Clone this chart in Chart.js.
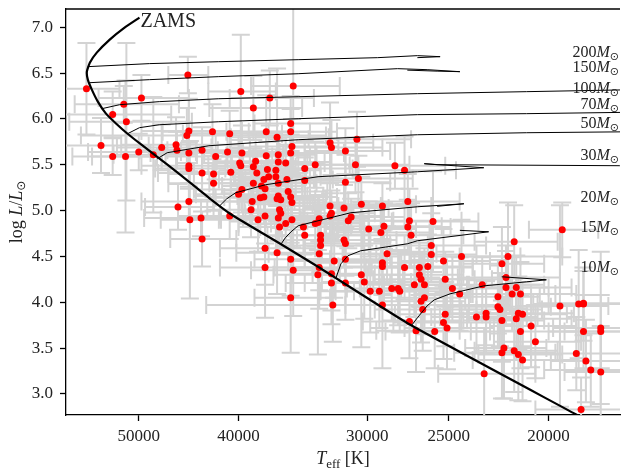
<!DOCTYPE html>
<html lang="en">
<head>
<meta charset="UTF-8">
<title>HRD</title>
<style>
  html, body { margin: 0; padding: 0; background: #fff; overflow: hidden; }
  #hrd { display: block; }
</style>
</head>
<body>
<canvas id="hrd" width="624" height="471"></canvas>
<script src="https://cdn.jsdelivr.net/npm/chart.js"></script>
<script>
// observed stars: Teff [K] and log L/Lsun with their errors
const starTeff = [
  56200, 44800, 49700, 51700, 53000, 51400, 54400, 53000, 51500, 50000,
  48400, 47500, 46000, 45900, 44700, 44900, 44700, 43400, 44700, 44700,
  43400, 44700, 45800, 44600, 43500, 43400, 39800, 35400, 37300, 38700,
  42400, 40800, 37600, 35600, 35600, 36700, 35500, 42100, 41000, 39700,
  37600, 36600, 35600, 42300, 40700, 42300, 39900, 39800, 38500, 36600,
  36000, 34500, 33700, 38700, 38400, 37500, 36800, 37400, 37800, 36800,
  36600, 35900, 34500, 38700, 38000, 37700, 37800, 38100, 39700, 40000,
  36600, 36700, 36400, 35800, 35600, 35500, 38800, 38900, 36500, 36400,
  37700, 38300, 40800, 35500, 36600, 36500, 36000, 34600, 34500, 33700,
  37700, 36700, 35600, 35400, 37700, 35600, 33500, 33400, 33500, 32600,
  31300, 31100, 29900, 28900, 29100, 27300, 27400, 27200, 33300, 33300,
  33300, 33400, 31600, 31500, 32300, 31500, 28700, 29000, 29000, 27600,
  26700, 26700, 26600, 26400, 27000, 26400, 26500, 33400, 32500, 32500,
  31500, 30400, 30200, 29800, 29200, 28400, 28000, 27900, 29000, 32400,
  30700, 32600, 32500, 31500, 30800, 28200, 27600, 31500, 30600, 32600,
  31600, 30400, 29000, 27400, 32500, 25900, 26000, 26000, 25300, 24300,
  26200, 25200, 24800, 24400, 23200, 26600, 21600, 21900, 22200, 22000,
  22000, 21500, 21700, 21300, 22400, 22400, 22300, 25200, 23500, 23000,
  23000, 22200, 21400, 21200, 21500, 25300, 25100, 19400, 19500, 18700,
  18500, 18500, 18500, 17800, 17800, 21300, 20800, 20600, 22100, 22200,
  21600, 21400, 21200, 18800, 18400, 18200, 17800, 18600, 23100, 25800,
  26900, 27300
];
const starTeffErr = [
  4000, 2000, 5000, 6000, 6500, 7000, 5500, 5000, 4000, 6000,
  4500, 5000, 6000, 4000, 5000, 12000, 4000, 3500, 5000, 3500,
  4500, 5000, 3500, 3000, 5900, 3200, 3000, 3500, 3500, 4000,
  5000, 4500, 3500, 3000, 3500, 4000, 3500, 5000, 4500, 3500,
  3500, 3000, 4000, 4500, 3500, 4500, 3500, 3000, 3500, 4000,
  3000, 3500, 3000, 3500, 4000, 3000, 3500, 3000, 4000, 3500,
  3000, 3500, 3000, 4000, 3500, 3000, 3500, 4000, 4500, 4000,
  3500, 3000, 3500, 3000, 3500, 4000, 3500, 4000, 3500, 3000,
  4000, 3500, 5000, 3500, 3000, 3500, 4000, 3500, 3000, 3500,
  4000, 3500, 3000, 3500, 4000, 3000, 3500, 3500, 3000, 3500,
  3000, 3500, 3000, 3500, 3000, 3000, 2500, 3000, 3500, 3000,
  3500, 4000, 3500, 3000, 3500, 3000, 3000, 2500, 3000, 2500,
  3000, 2500, 3000, 2500, 3000, 2500, 3000, 3500, 3000, 3500,
  3000, 3500, 3000, 3500, 3000, 3000, 2500, 3000, 2500, 10600,
  3500, 3000, 3500, 3000, 3500, 3000, 3000, 3000, 3500, 3500,
  3000, 3500, 3000, 3000, 3000, 2500, 3000, 2500, 2500, 3000,
  2500, 2500, 3000, 2500, 3000, 2500, 2000, 2500, 2000, 2500,
  2000, 2500, 2000, 2500, 2000, 2500, 2000, 3000, 2500, 2000,
  2500, 2000, 2500, 2000, 2500, 3000, 2500, 1500, 2000, 2000,
  1500, 2000, 1500, 2000, 1500, 2500, 2000, 2000, 2000, 2500,
  2000, 2000, 2500, 2000, 1500, 2000, 1500, 2000, 2500, 3000,
  2500, 3000
];
const starLum = [
  6.33, 6.48, 6.23, 6.16, 6.05, 5.97, 5.71, 5.59, 5.59, 5.64,
  5.61, 5.69, 5.72, 5.66, 5.87, 5.82, 5.63, 5.66, 5.49, 5.46,
  5.41, 5.10, 5.04, 4.90, 4.92, 4.69, 6.30, 6.36, 6.23, 6.12,
  5.86, 5.84, 5.86, 5.95, 5.86, 5.80, 5.70, 5.59, 5.64, 5.63,
  5.60, 5.61, 5.63, 5.40, 5.42, 5.30, 5.52, 5.49, 5.54, 5.53,
  5.52, 5.46, 5.50, 5.48, 5.41, 5.45, 5.44, 5.37, 5.34, 5.37,
  5.30, 5.34, 5.33, 5.30, 5.27, 5.24, 5.15, 5.14, 5.23, 5.18,
  5.16, 5.13, 5.12, 5.21, 5.15, 5.09, 5.10, 5.01, 5.01, 4.97,
  4.94, 4.90, 4.94, 4.90, 4.92, 4.82, 4.86, 4.82, 4.73, 4.86,
  4.59, 4.54, 4.47, 4.35, 4.38, 4.05, 4.30, 4.91, 4.87, 4.94,
  4.89, 4.93, 4.80, 4.83, 4.76, 4.89, 4.82, 4.73, 4.73, 4.68,
  4.62, 4.53, 4.68, 4.64, 4.45, 4.47, 4.53, 4.43, 4.39, 4.38,
  4.38, 4.30, 4.25, 4.19, 4.19, 4.05, 3.92, 4.38, 4.31, 4.21,
  4.21, 4.30, 4.22, 4.12, 4.12, 4.15, 4.15, 4.12, 3.97, 3.97,
  5.78, 5.74, 5.69, 5.65, 5.50, 5.49, 5.44, 5.31, 5.35, 5.05,
  5.03, 5.07, 5.05, 5.10, 4.97, 4.88, 4.62, 4.52, 4.45, 4.50,
  4.39, 4.25, 4.15, 4.09, 4.19, 4.01, 4.66, 4.50, 4.42, 4.27,
  4.16, 4.16, 4.09, 4.09, 4.06, 3.95, 3.92, 3.87, 3.84, 3.88,
  3.84, 3.80, 3.88, 3.87, 3.82, 3.78, 3.72, 4.79, 3.96, 3.98,
  3.98, 3.99, 3.68, 3.72, 3.68, 3.68, 3.74, 3.57, 3.50, 3.45,
  3.47, 3.43, 3.37, 3.44, 3.36, 3.26, 3.24, 2.83, 3.22, 3.68,
  3.69, 3.79
];
const starLumErr = [
  0.50, 0.20, 0.25, 0.20, 0.25, 0.86, 0.30, 0.20, 0.83, 0.20,
  0.63, 0.25, 0.30, 0.20, 0.35, 0.30, 0.20, 0.25, 0.25, 0.20,
  0.25, 0.20, 0.25, 0.86, 0.20, 0.30, 0.62, 0.90, 0.30, 0.35,
  0.30, 0.25, 0.40, 0.30, 0.25, 0.75, 0.30, 0.25, 0.20, 0.30,
  0.20, 0.25, 0.20, 0.25, 0.20, 0.30, 0.25, 0.20, 0.30, 0.25,
  0.20, 0.30, 0.25, 0.20, 0.25, 0.30, 0.20, 0.25, 0.20, 0.30,
  0.25, 0.20, 0.25, 0.30, 0.20, 0.25, 0.30, 0.20, 0.25, 0.30,
  0.20, 0.25, 0.30, 0.20, 0.25, 0.30, 0.25, 0.30, 0.20, 0.25,
  0.30, 0.35, 0.25, 0.30, 0.25, 0.30, 0.25, 0.30, 0.35, 0.25,
  0.40, 0.45, 0.40, 0.50, 0.55, 0.60, 0.87, 0.25, 0.30, 0.25,
  0.30, 0.20, 0.30, 0.25, 0.30, 0.35, 0.30, 0.35, 0.30, 0.35,
  0.30, 0.40, 0.30, 0.35, 0.40, 0.35, 0.30, 0.35, 0.30, 0.35,
  0.30, 0.35, 0.30, 0.40, 0.35, 0.40, 0.45, 0.45, 0.40, 0.45,
  0.40, 0.79, 0.40, 0.45, 0.40, 0.35, 0.40, 0.45, 0.69, 0.40,
  0.30, 0.44, 0.30, 0.25, 0.30, 0.25, 0.37, 0.30, 0.25, 0.30,
  0.25, 0.30, 0.25, 0.30, 0.25, 0.55, 0.35, 0.30, 0.35, 0.40,
  0.35, 0.30, 0.35, 0.40, 0.30, 0.45, 0.40, 0.59, 0.40, 0.35,
  0.40, 0.35, 0.40, 0.35, 0.40, 0.45, 0.40, 0.35, 0.40, 0.35,
  0.40, 0.45, 0.40, 0.35, 0.45, 0.40, 0.45, 0.30, 1.10, 0.59,
  0.40, 0.35, 0.40, 0.83, 0.40, 0.40, 0.45, 0.40, 0.55, 0.50,
  0.45, 0.50, 0.45, 0.40, 0.45, 0.40, 0.50, 0.35, 0.50, 0.40,
  0.45, 0.40
];

// zero-age main sequence
const zamsTeff = [49920, 51610, 53350, 54920, 55780, 56150, 56030, 55530, 54790, 53800, 52580,
                  51270, 49700, 48010, 45680, 42740, 40620, 36440, 33490, 27250, 18930, 17990];
const zamsLum = [7.106, 6.997, 6.866, 6.724, 6.614, 6.516, 6.429, 6.320, 6.189, 6.058, 5.948,
                 5.839, 5.719, 5.588, 5.402, 5.140, 4.955, 4.638, 4.387, 3.754, 2.793, 2.661];

// evolutionary tracks
const teff200 = [56030, 48830, 41810, 35010, 29310, 26820, 25490, 26820];
const lum200 = [6.571, 6.604, 6.625, 6.647, 6.669, 6.691, 6.680, 6.669];
const teff150 = [55780, 48830, 41810, 35010, 28040, 26240, 24390, 25660, 27430];
const lum150 = [6.396, 6.429, 6.462, 6.494, 6.549, 6.538, 6.516, 6.522, 6.533];
const teff100 = [54310, 52180, 47760, 41810, 35010, 26820, 21020, 16460];
const lum100 = [6.112, 6.156, 6.189, 6.221, 6.243, 6.276, 6.298, 6.320];
const teff70 = [51270, 49920, 47760, 41810, 35010, 26820, 21020, 16460];
const lum70 = [5.839, 5.905, 5.937, 5.970, 6.003, 6.047, 6.058, 6.074];
const teff50 = [47970, 46920, 42740, 35010, 26820, 21020, 16460];
const lum50 = [5.566, 5.632, 5.708, 5.774, 5.828, 5.850, 5.861];
const teff30 = [41720, 41070, 40260, 37670, 33490, 26820, 23120, 26410, 25660, 17060, 16460];
const lum30 = [5.053, 5.129, 5.195, 5.282, 5.370, 5.424, 5.468, 5.512, 5.501, 5.490, 5.490];
const teff20 = [36360, 36030, 35570, 35010, 33490, 31120, 26820, 24170, 25660];
const lum20 = [4.638, 4.704, 4.769, 4.835, 4.889, 4.977, 5.042, 5.075, 5.047];
const teff15 = [32170, 31820, 31330, 30440, 27430, 26820, 22870, 24390];
const lum15 = [4.267, 4.419, 4.507, 4.562, 4.638, 4.671, 4.769, 4.785];
const teff10 = [27190, 26820, 26240, 25830, 24930, 23120, 21020, 20100, 22210];
const lum10 = [3.743, 3.830, 3.961, 4.026, 4.092, 4.179, 4.223, 4.245, 4.278];

const trackMasses = [200, 150, 100, 70, 50, 30, 20, 15, 10];
const xTicks = [20000, 25000, 30000, 40000, 50000];
const yTicks = [3.0, 3.5, 4.0, 4.5, 5.0, 5.5, 6.0, 6.5, 7.0];

// where the mass labels sit (baseline, in log L)
const labelLum = [6.68, 6.516, 6.287, 6.112, 5.905, 5.555, 5.097, 4.769, 4.332];

const SERIF = '"Liberation Serif", "DejaVu Serif", serif';

const trackData = [
  [teff200, lum200], [teff150, lum150], [teff100, lum100], [teff70, lum70], [teff50, lum50],
  [teff30, lum30], [teff20, lum20], [teff15, lum15], [teff10, lum10]
];
const toPoints = (xs, ys) => xs.map((v, i) => ({ x: v, y: ys[i] }));

const datasets = trackData.map(([t, l]) => ({
  data: toPoints(t, l),
  showLine: true,
  borderColor: '#000',
  borderWidth: 1,
  pointRadius: 0,
  tension: 0,
  order: 0
}));
datasets.push({
  data: toPoints(zamsTeff, zamsLum),
  showLine: true,
  borderColor: '#000',
  borderWidth: 2.2,
  pointRadius: 0,
  tension: 0.15,
  order: 0
});
datasets.push({
  data: toPoints(starTeff, starLum),
  backgroundColor: '#ff0000',
  borderWidth: 0,
  pointRadius: 3.5,
  order: 1
});

const errorBars = {
  id: 'errorBars',
  beforeDatasetsDraw(chart) {
    const { ctx, chartArea: a, scales: { x, y } } = chart;
    const cap = 9;
    ctx.save();
    ctx.beginPath();
    ctx.rect(a.left, a.top, a.right - a.left, a.bottom - a.top);
    ctx.clip();
    ctx.strokeStyle = '#d3d3d3';
    ctx.lineWidth = 2;
    for (let i = 0; i < starTeff.length; i++) {
      const px = x.getPixelForValue(starTeff[i]);
      const py = y.getPixelForValue(starLum[i]);
      const x1 = x.getPixelForValue(Math.max(starTeff[i] - starTeffErr[i], 1000));
      const x2 = x.getPixelForValue(starTeff[i] + starTeffErr[i]);
      const y1 = y.getPixelForValue(starLum[i] - starLumErr[i]);
      const y2 = y.getPixelForValue(starLum[i] + starLumErr[i]);
      ctx.beginPath();
      ctx.moveTo(x1, py); ctx.lineTo(x2, py);
      ctx.moveTo(x1, py - cap); ctx.lineTo(x1, py + cap);
      ctx.moveTo(x2, py - cap); ctx.lineTo(x2, py + cap);
      ctx.moveTo(px, y1); ctx.lineTo(px, y2);
      ctx.moveTo(px - cap, y1); ctx.lineTo(px + cap, y1);
      ctx.moveTo(px - cap, y2); ctx.lineTo(px + cap, y2);
      ctx.stroke();
    }
    ctx.restore();
  }
};

function richText(ctx, parts, x, y, align) {
  let w = 0;
  for (const p of parts) { ctx.font = p.font; w += ctx.measureText(p.text).width; }
  let cx = align === 'right' ? x - w : align === 'center' ? x - w / 2 : x;
  for (const p of parts) {
    ctx.font = p.font;
    ctx.fillText(p.text, cx, y + (p.dy || 0));
    cx += ctx.measureText(p.text).width;
  }
}

const decorations = {
  id: 'decorations',
  afterDraw(chart) {
    const { ctx, chartArea: a, scales: { x, y } } = chart;
    ctx.save();
    // top spine
    ctx.strokeStyle = '#000';
    ctx.lineWidth = 1.3;
    ctx.beginPath();
    ctx.moveTo(a.left, a.top);
    ctx.lineTo(a.right, a.top);
    ctx.stroke();

    ctx.fillStyle = '#222';
    ctx.textAlign = 'left';
    ctx.textBaseline = 'alphabetic';

    // ZAMS label next to the top end of the ZAMS
    ctx.font = '20px ' + SERIF;
    ctx.fillText('ZAMS', x.getPixelForValue(zamsTeff[0]) + 1, y.getPixelForValue(zamsLum[0]) + 9);

    // mass labels
    trackMasses.forEach((m, i) => {
      richText(ctx, [
        { text: String(m), font: '16px ' + SERIF },
        { text: 'M', font: 'italic 16px ' + SERIF },
        { text: '\u2299', font: '11px "DejaVu Sans", sans-serif', dy: 3 }
      ], a.right - 1, y.getPixelForValue(labelLum[i]), 'right');
    });

    // axis titles
    richText(ctx, [
      { text: 'T', font: 'italic 18px ' + SERIF },
      { text: 'eff', font: '13px ' + SERIF, dy: 4 },
      { text: ' [K]', font: '18px ' + SERIF }
    ], (a.left + a.right) / 2, 464, 'center');

    ctx.translate(22, (a.top + a.bottom) / 2);
    ctx.rotate(-Math.PI / 2);
    richText(ctx, [
      { text: 'log ', font: '18px ' + SERIF },
      { text: 'L', font: 'italic 18px ' + SERIF },
      { text: '/', font: '18px ' + SERIF },
      { text: 'L', font: 'italic 18px ' + SERIF },
      { text: '\u2299', font: '12px "DejaVu Sans", sans-serif', dy: 3 }
    ], 0, 0, 'center');
    ctx.restore();
  }
};

new Chart(document.getElementById('hrd').getContext('2d'), {
  type: 'scatter',
  data: { datasets },
  options: {
    responsive: false,
    animation: false,
    devicePixelRatio: 1,
    layout: { padding: { top: 9, right: 0, bottom: 0, left: 0 } },
    plugins: { legend: { display: false }, tooltip: { enabled: false } },
    scales: {
      x: {
        type: 'logarithmic',
        reverse: true,
        min: 17050,
        max: 58830,
        afterBuildTicks: s => { s.ticks = xTicks.map(v => ({ value: v })); },
        afterFit: s => { s.height = 56; s.paddingLeft = 0; s.paddingRight = 0; },
        ticks: {
          callback: v => String(v),
          font: { family: SERIF, size: 17 },
          color: '#222',
          padding: 5,
          maxRotation: 0,
          autoSkip: false
        },
        grid: { display: true, drawOnChartArea: false, drawTicks: true, tickLength: 6, tickWidth: 1.3, tickColor: '#000' },
        border: { display: true, color: '#000', width: 1.3 }
      },
      y: {
        type: 'linear',
        min: 2.77,
        max: 7.2,
        afterBuildTicks: s => { s.ticks = yTicks.map(v => ({ value: v })); },
        afterFit: s => { s.width = 66; s.paddingTop = 0; s.paddingBottom = 0; },
        ticks: {
          callback: v => v.toFixed(1),
          font: { family: SERIF, size: 17 },
          color: '#222',
          padding: 7
        },
        grid: { display: true, drawOnChartArea: false, drawTicks: true, tickLength: 6, tickWidth: 1.3, tickColor: '#000' },
        border: { display: true, color: '#000', width: 1.3 }
      }
    }
  },
  plugins: [errorBars, decorations]
});
</script>
</body>
</html>
